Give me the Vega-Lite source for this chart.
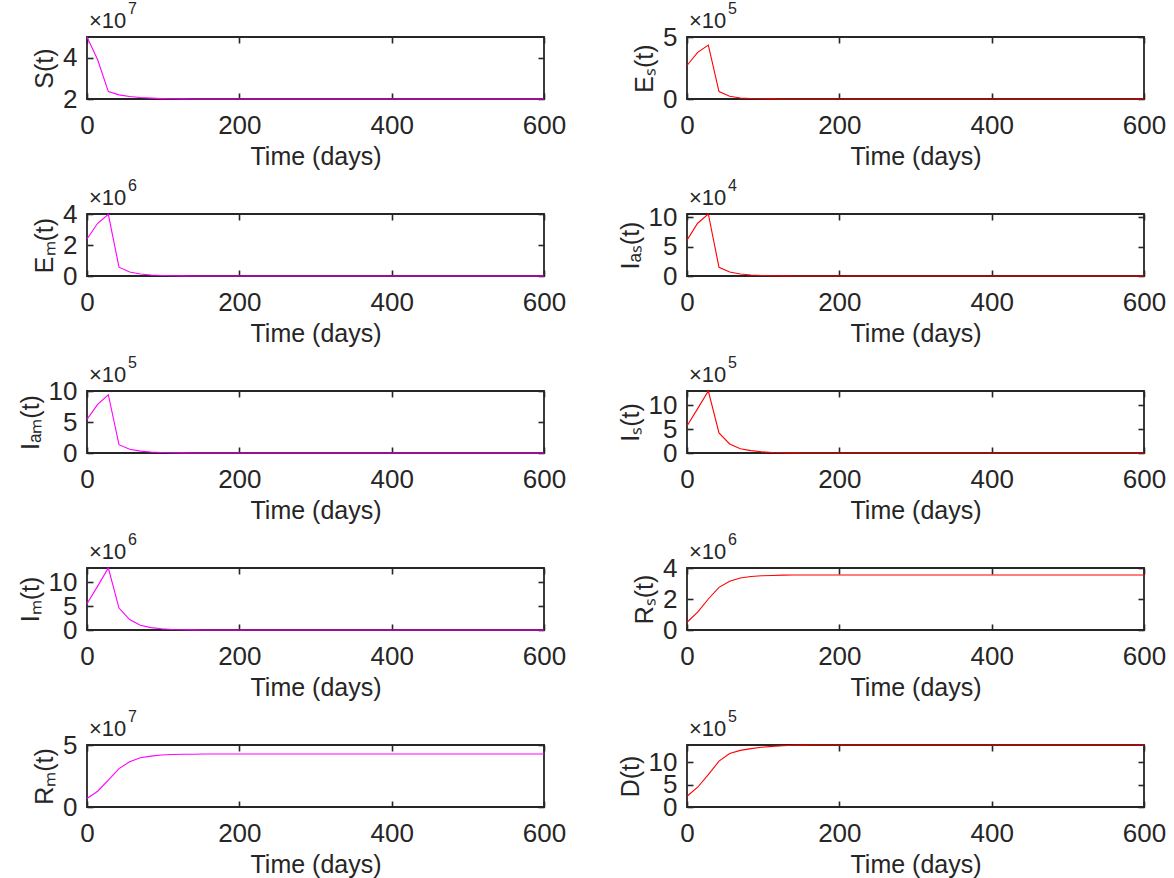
{
  "$schema": "https://vega.github.io/schema/vega-lite/v6.json",
  "autosize": {"type": "pad"},
  "padding": {"left": 17, "top": 0, "right": 0, "bottom": 0},
  "background": "white",
  "datasets": {
    "sim": [
      {"t": 0, "S": 5.0, "Es": 2.7, "Em": 2.39, "Ias": 6.1, "Iam": 5.43, "Is": 5.66, "Im": 5.5, "Rs": 0.5, "Rm": 0.68, "D": 2.4},
      {"t": 14, "S": 3.9, "Es": 3.76, "Em": 3.4, "Ias": 8.98, "Iam": 7.85, "Is": 9.3, "Im": 9.2, "Rs": 1.15, "Rm": 1.27, "D": 4.4},
      {"t": 28, "S": 2.36, "Es": 4.35, "Em": 3.98, "Ias": 10.55, "Iam": 9.4, "Is": 13.0, "Im": 13.0, "Rs": 2.0, "Rm": 2.16, "D": 7.2},
      {"t": 42, "S": 2.2, "Es": 0.6, "Em": 0.57, "Ias": 1.48, "Iam": 1.34, "Is": 4.2, "Im": 4.6, "Rs": 2.75, "Rm": 3.1, "D": 10.2},
      {"t": 56, "S": 2.12, "Es": 0.22, "Em": 0.26, "Ias": 0.68, "Iam": 0.6, "Is": 1.9, "Im": 2.2, "Rs": 3.15, "Rm": 3.65, "D": 11.9},
      {"t": 70, "S": 2.07, "Es": 0.08, "Em": 0.13, "Ias": 0.34, "Iam": 0.3, "Is": 0.9, "Im": 1.0, "Rs": 3.35, "Rm": 3.97, "D": 12.6},
      {"t": 84, "S": 2.04, "Es": 0.04, "Em": 0.06, "Ias": 0.17, "Iam": 0.15, "Is": 0.5, "Im": 0.5, "Rs": 3.45, "Rm": 4.1, "D": 13.0},
      {"t": 98, "S": 2.02, "Es": 0.02, "Em": 0.03, "Ias": 0.08, "Iam": 0.07, "Is": 0.25, "Im": 0.25, "Rs": 3.5, "Rm": 4.19, "D": 13.3},
      {"t": 112, "S": 2.01, "Es": 0.01, "Em": 0.015, "Ias": 0.04, "Iam": 0.035, "Is": 0.12, "Im": 0.12, "Rs": 3.52, "Rm": 4.23, "D": 13.5},
      {"t": 126, "S": 2.005, "Es": 0.005, "Em": 0.007, "Ias": 0.02, "Iam": 0.017, "Is": 0.06, "Im": 0.06, "Rs": 3.54, "Rm": 4.25, "D": 13.65},
      {"t": 140, "S": 2.0, "Es": 0.002, "Em": 0.003, "Ias": 0.01, "Iam": 0.008, "Is": 0.03, "Im": 0.03, "Rs": 3.55, "Rm": 4.26, "D": 13.75},
      {"t": 154, "S": 2.0, "Es": 0.001, "Em": 0.001, "Ias": 0.005, "Iam": 0.004, "Is": 0.015, "Im": 0.015, "Rs": 3.55, "Rm": 4.27, "D": 13.78},
      {"t": 168, "S": 2.0, "Es": 0.0, "Em": 0.0, "Ias": 0.002, "Iam": 0.002, "Is": 0.007, "Im": 0.007, "Rs": 3.55, "Rm": 4.27, "D": 13.8},
      {"t": 196, "S": 2.0, "Es": 0.0, "Em": 0.0, "Ias": 0.0, "Iam": 0.0, "Is": 0.002, "Im": 0.002, "Rs": 3.55, "Rm": 4.27, "D": 13.8},
      {"t": 300, "S": 2.0, "Es": 0.0, "Em": 0.0, "Ias": 0.0, "Iam": 0.0, "Is": 0.0, "Im": 0.0, "Rs": 3.55, "Rm": 4.27, "D": 13.8},
      {"t": 400, "S": 2.0, "Es": 0.0, "Em": 0.0, "Ias": 0.0, "Iam": 0.0, "Is": 0.0, "Im": 0.0, "Rs": 3.55, "Rm": 4.27, "D": 13.8},
      {"t": 500, "S": 2.0, "Es": 0.0, "Em": 0.0, "Ias": 0.0, "Iam": 0.0, "Is": 0.0, "Im": 0.0, "Rs": 3.55, "Rm": 4.27, "D": 13.8},
      {"t": 600, "S": 2.0, "Es": 0.0, "Em": 0.0, "Ias": 0.0, "Iam": 0.0, "Is": 0.0, "Im": 0.0, "Rs": 3.55, "Rm": 4.27, "D": 13.8}
    ],
    "exps": [
      {"var": "S", "base": "×10", "exp": "7"},
      {"var": "Es", "base": "×10", "exp": "5"},
      {"var": "Em", "base": "×10", "exp": "6"},
      {"var": "Ias", "base": "×10", "exp": "4"},
      {"var": "Iam", "base": "×10", "exp": "5"},
      {"var": "Is", "base": "×10", "exp": "5"},
      {"var": "Im", "base": "×10", "exp": "6"},
      {"var": "Rs", "base": "×10", "exp": "6"},
      {"var": "Rm", "base": "×10", "exp": "7"},
      {"var": "D", "base": "×10", "exp": "5"}
    ]
  },
  "data": {"name": "sim"},
  "columns": 2,
  "spacing": {"row": 115, "column": 143},
  "bounds": "flush",
  "concat": [
    {
      "width": 457, "height": 62,
      "layer": [
        {"mark": {"type": "line", "color": "#ff00ff", "strokeWidth": 1.1},
         "encoding": {
           "x": {"field": "t", "type": "quantitative", "scale": {"domain": [0, 600], "nice": false}, "axis": {"title": "Time (days)", "values": [0, 200, 400, 600]}},
           "y": {"field": "S", "type": "quantitative", "scale": {"domain": [2, 5], "nice": false, "zero": false}, "axis": {"title": "S(t)", "values": [2, 4]}}}},
        {"mark": {"type": "line", "opacity": 0},
         "encoding": {
           "x": {"field": "t", "type": "quantitative", "axis": {"orient": "top", "labels": false, "title": null, "values": [0, 200, 400, 600]}},
           "y": {"field": "S", "type": "quantitative", "axis": {"orient": "right", "labels": false, "title": null, "values": [2, 4]}}}},
        {"data": {"name": "exps"}, "transform": [{"filter": "datum.var === 'S'"}],
         "mark": {"type": "text", "align": "left", "baseline": "alphabetic", "fontSize": 22, "dx": 2, "dy": -9, "color": "#262626"},
         "encoding": {"x": {"datum": 0, "axis": null}, "y": {"datum": 5, "axis": null}, "text": {"field": "base"}}},
        {"data": {"name": "exps"}, "transform": [{"filter": "datum.var === 'S'"}],
         "mark": {"type": "text", "align": "left", "baseline": "alphabetic", "fontSize": 16, "dx": 41, "dy": -23, "color": "#262626"},
         "encoding": {"x": {"datum": 0, "axis": null}, "y": {"datum": 5, "axis": null}, "text": {"field": "exp"}}}
      ],
      "resolve": {"axis": {"x": "independent", "y": "independent"}}
    },
    {
      "width": 457, "height": 62,
      "layer": [
        {"mark": {"type": "line", "color": "#ff0000", "strokeWidth": 1.1},
         "encoding": {
           "x": {"field": "t", "type": "quantitative", "scale": {"domain": [0, 600], "nice": false}, "axis": {"title": "Time (days)", "values": [0, 200, 400, 600]}},
           "y": {"field": "Es", "type": "quantitative", "scale": {"domain": [0, 5], "nice": false}, "axis": {"title": "Eₛ(t)", "values": [0, 5]}}}},
        {"mark": {"type": "line", "opacity": 0},
         "encoding": {
           "x": {"field": "t", "type": "quantitative", "axis": {"orient": "top", "labels": false, "title": null, "values": [0, 200, 400, 600]}},
           "y": {"field": "Es", "type": "quantitative", "axis": {"orient": "right", "labels": false, "title": null, "values": [0, 5]}}}},
        {"data": {"name": "exps"}, "transform": [{"filter": "datum.var === 'Es'"}],
         "mark": {"type": "text", "align": "left", "baseline": "alphabetic", "fontSize": 22, "dx": 2, "dy": -9, "color": "#262626"},
         "encoding": {"x": {"datum": 0, "axis": null}, "y": {"datum": 5, "axis": null}, "text": {"field": "base"}}},
        {"data": {"name": "exps"}, "transform": [{"filter": "datum.var === 'Es'"}],
         "mark": {"type": "text", "align": "left", "baseline": "alphabetic", "fontSize": 16, "dx": 41, "dy": -23, "color": "#262626"},
         "encoding": {"x": {"datum": 0, "axis": null}, "y": {"datum": 5, "axis": null}, "text": {"field": "exp"}}}
      ],
      "resolve": {"axis": {"x": "independent", "y": "independent"}}
    },
    {
      "width": 457, "height": 62,
      "layer": [
        {"mark": {"type": "line", "color": "#ff00ff", "strokeWidth": 1.1},
         "encoding": {
           "x": {"field": "t", "type": "quantitative", "scale": {"domain": [0, 600], "nice": false}, "axis": {"title": "Time (days)", "values": [0, 200, 400, 600]}},
           "y": {"field": "Em", "type": "quantitative", "scale": {"domain": [0, 4], "nice": false}, "axis": {"title": "Eₘ(t)", "values": [0, 2, 4]}}}},
        {"mark": {"type": "line", "opacity": 0},
         "encoding": {
           "x": {"field": "t", "type": "quantitative", "axis": {"orient": "top", "labels": false, "title": null, "values": [0, 200, 400, 600]}},
           "y": {"field": "Em", "type": "quantitative", "axis": {"orient": "right", "labels": false, "title": null, "values": [0, 2, 4]}}}},
        {"data": {"name": "exps"}, "transform": [{"filter": "datum.var === 'Em'"}],
         "mark": {"type": "text", "align": "left", "baseline": "alphabetic", "fontSize": 22, "dx": 2, "dy": -9, "color": "#262626"},
         "encoding": {"x": {"datum": 0, "axis": null}, "y": {"datum": 4, "axis": null}, "text": {"field": "base"}}},
        {"data": {"name": "exps"}, "transform": [{"filter": "datum.var === 'Em'"}],
         "mark": {"type": "text", "align": "left", "baseline": "alphabetic", "fontSize": 16, "dx": 41, "dy": -23, "color": "#262626"},
         "encoding": {"x": {"datum": 0, "axis": null}, "y": {"datum": 4, "axis": null}, "text": {"field": "exp"}}}
      ],
      "resolve": {"axis": {"x": "independent", "y": "independent"}}
    },
    {
      "width": 457, "height": 62,
      "layer": [
        {"mark": {"type": "line", "color": "#ff0000", "strokeWidth": 1.1},
         "encoding": {
           "x": {"field": "t", "type": "quantitative", "scale": {"domain": [0, 600], "nice": false}, "axis": {"title": "Time (days)", "values": [0, 200, 400, 600]}},
           "y": {"field": "Ias", "type": "quantitative", "scale": {"domain": [0, 10.55], "nice": false}, "axis": {"title": "Iₐₛ(t)", "values": [0, 5, 10]}}}},
        {"mark": {"type": "line", "opacity": 0},
         "encoding": {
           "x": {"field": "t", "type": "quantitative", "axis": {"orient": "top", "labels": false, "title": null, "values": [0, 200, 400, 600]}},
           "y": {"field": "Ias", "type": "quantitative", "axis": {"orient": "right", "labels": false, "title": null, "values": [0, 5, 10]}}}},
        {"data": {"name": "exps"}, "transform": [{"filter": "datum.var === 'Ias'"}],
         "mark": {"type": "text", "align": "left", "baseline": "alphabetic", "fontSize": 22, "dx": 2, "dy": -9, "color": "#262626"},
         "encoding": {"x": {"datum": 0, "axis": null}, "y": {"datum": 10.55, "axis": null}, "text": {"field": "base"}}},
        {"data": {"name": "exps"}, "transform": [{"filter": "datum.var === 'Ias'"}],
         "mark": {"type": "text", "align": "left", "baseline": "alphabetic", "fontSize": 16, "dx": 41, "dy": -23, "color": "#262626"},
         "encoding": {"x": {"datum": 0, "axis": null}, "y": {"datum": 10.55, "axis": null}, "text": {"field": "exp"}}}
      ],
      "resolve": {"axis": {"x": "independent", "y": "independent"}}
    },
    {
      "width": 457, "height": 62,
      "layer": [
        {"mark": {"type": "line", "color": "#ff00ff", "strokeWidth": 1.1},
         "encoding": {
           "x": {"field": "t", "type": "quantitative", "scale": {"domain": [0, 600], "nice": false}, "axis": {"title": "Time (days)", "values": [0, 200, 400, 600]}},
           "y": {"field": "Iam", "type": "quantitative", "scale": {"domain": [0, 10], "nice": false}, "axis": {"title": "Iₐₘ(t)", "values": [0, 5, 10]}}}},
        {"mark": {"type": "line", "opacity": 0},
         "encoding": {
           "x": {"field": "t", "type": "quantitative", "axis": {"orient": "top", "labels": false, "title": null, "values": [0, 200, 400, 600]}},
           "y": {"field": "Iam", "type": "quantitative", "axis": {"orient": "right", "labels": false, "title": null, "values": [0, 5, 10]}}}},
        {"data": {"name": "exps"}, "transform": [{"filter": "datum.var === 'Iam'"}],
         "mark": {"type": "text", "align": "left", "baseline": "alphabetic", "fontSize": 22, "dx": 2, "dy": -9, "color": "#262626"},
         "encoding": {"x": {"datum": 0, "axis": null}, "y": {"datum": 10, "axis": null}, "text": {"field": "base"}}},
        {"data": {"name": "exps"}, "transform": [{"filter": "datum.var === 'Iam'"}],
         "mark": {"type": "text", "align": "left", "baseline": "alphabetic", "fontSize": 16, "dx": 41, "dy": -23, "color": "#262626"},
         "encoding": {"x": {"datum": 0, "axis": null}, "y": {"datum": 10, "axis": null}, "text": {"field": "exp"}}}
      ],
      "resolve": {"axis": {"x": "independent", "y": "independent"}}
    },
    {
      "width": 457, "height": 62,
      "layer": [
        {"mark": {"type": "line", "color": "#ff0000", "strokeWidth": 1.1},
         "encoding": {
           "x": {"field": "t", "type": "quantitative", "scale": {"domain": [0, 600], "nice": false}, "axis": {"title": "Time (days)", "values": [0, 200, 400, 600]}},
           "y": {"field": "Is", "type": "quantitative", "scale": {"domain": [0, 13], "nice": false}, "axis": {"title": "Iₛ(t)", "values": [0, 5, 10]}}}},
        {"mark": {"type": "line", "opacity": 0},
         "encoding": {
           "x": {"field": "t", "type": "quantitative", "axis": {"orient": "top", "labels": false, "title": null, "values": [0, 200, 400, 600]}},
           "y": {"field": "Is", "type": "quantitative", "axis": {"orient": "right", "labels": false, "title": null, "values": [0, 5, 10]}}}},
        {"data": {"name": "exps"}, "transform": [{"filter": "datum.var === 'Is'"}],
         "mark": {"type": "text", "align": "left", "baseline": "alphabetic", "fontSize": 22, "dx": 2, "dy": -9, "color": "#262626"},
         "encoding": {"x": {"datum": 0, "axis": null}, "y": {"datum": 13, "axis": null}, "text": {"field": "base"}}},
        {"data": {"name": "exps"}, "transform": [{"filter": "datum.var === 'Is'"}],
         "mark": {"type": "text", "align": "left", "baseline": "alphabetic", "fontSize": 16, "dx": 41, "dy": -23, "color": "#262626"},
         "encoding": {"x": {"datum": 0, "axis": null}, "y": {"datum": 13, "axis": null}, "text": {"field": "exp"}}}
      ],
      "resolve": {"axis": {"x": "independent", "y": "independent"}}
    },
    {
      "width": 457, "height": 62,
      "layer": [
        {"mark": {"type": "line", "color": "#ff00ff", "strokeWidth": 1.1},
         "encoding": {
           "x": {"field": "t", "type": "quantitative", "scale": {"domain": [0, 600], "nice": false}, "axis": {"title": "Time (days)", "values": [0, 200, 400, 600]}},
           "y": {"field": "Im", "type": "quantitative", "scale": {"domain": [0, 13], "nice": false}, "axis": {"title": "Iₘ(t)", "values": [0, 5, 10]}}}},
        {"mark": {"type": "line", "opacity": 0},
         "encoding": {
           "x": {"field": "t", "type": "quantitative", "axis": {"orient": "top", "labels": false, "title": null, "values": [0, 200, 400, 600]}},
           "y": {"field": "Im", "type": "quantitative", "axis": {"orient": "right", "labels": false, "title": null, "values": [0, 5, 10]}}}},
        {"data": {"name": "exps"}, "transform": [{"filter": "datum.var === 'Im'"}],
         "mark": {"type": "text", "align": "left", "baseline": "alphabetic", "fontSize": 22, "dx": 2, "dy": -9, "color": "#262626"},
         "encoding": {"x": {"datum": 0, "axis": null}, "y": {"datum": 13, "axis": null}, "text": {"field": "base"}}},
        {"data": {"name": "exps"}, "transform": [{"filter": "datum.var === 'Im'"}],
         "mark": {"type": "text", "align": "left", "baseline": "alphabetic", "fontSize": 16, "dx": 41, "dy": -23, "color": "#262626"},
         "encoding": {"x": {"datum": 0, "axis": null}, "y": {"datum": 13, "axis": null}, "text": {"field": "exp"}}}
      ],
      "resolve": {"axis": {"x": "independent", "y": "independent"}}
    },
    {
      "width": 457, "height": 62,
      "layer": [
        {"mark": {"type": "line", "color": "#ff0000", "strokeWidth": 1.1},
         "encoding": {
           "x": {"field": "t", "type": "quantitative", "scale": {"domain": [0, 600], "nice": false}, "axis": {"title": "Time (days)", "values": [0, 200, 400, 600]}},
           "y": {"field": "Rs", "type": "quantitative", "scale": {"domain": [0, 4], "nice": false}, "axis": {"title": "Rₛ(t)", "values": [0, 2, 4]}}}},
        {"mark": {"type": "line", "opacity": 0},
         "encoding": {
           "x": {"field": "t", "type": "quantitative", "axis": {"orient": "top", "labels": false, "title": null, "values": [0, 200, 400, 600]}},
           "y": {"field": "Rs", "type": "quantitative", "axis": {"orient": "right", "labels": false, "title": null, "values": [0, 2, 4]}}}},
        {"data": {"name": "exps"}, "transform": [{"filter": "datum.var === 'Rs'"}],
         "mark": {"type": "text", "align": "left", "baseline": "alphabetic", "fontSize": 22, "dx": 2, "dy": -9, "color": "#262626"},
         "encoding": {"x": {"datum": 0, "axis": null}, "y": {"datum": 4, "axis": null}, "text": {"field": "base"}}},
        {"data": {"name": "exps"}, "transform": [{"filter": "datum.var === 'Rs'"}],
         "mark": {"type": "text", "align": "left", "baseline": "alphabetic", "fontSize": 16, "dx": 41, "dy": -23, "color": "#262626"},
         "encoding": {"x": {"datum": 0, "axis": null}, "y": {"datum": 4, "axis": null}, "text": {"field": "exp"}}}
      ],
      "resolve": {"axis": {"x": "independent", "y": "independent"}}
    },
    {
      "width": 457, "height": 62,
      "layer": [
        {"mark": {"type": "line", "color": "#ff00ff", "strokeWidth": 1.1},
         "encoding": {
           "x": {"field": "t", "type": "quantitative", "scale": {"domain": [0, 600], "nice": false}, "axis": {"title": "Time (days)", "values": [0, 200, 400, 600]}},
           "y": {"field": "Rm", "type": "quantitative", "scale": {"domain": [0, 5], "nice": false}, "axis": {"title": "Rₘ(t)", "values": [0, 5]}}}},
        {"mark": {"type": "line", "opacity": 0},
         "encoding": {
           "x": {"field": "t", "type": "quantitative", "axis": {"orient": "top", "labels": false, "title": null, "values": [0, 200, 400, 600]}},
           "y": {"field": "Rm", "type": "quantitative", "axis": {"orient": "right", "labels": false, "title": null, "values": [0, 5]}}}},
        {"data": {"name": "exps"}, "transform": [{"filter": "datum.var === 'Rm'"}],
         "mark": {"type": "text", "align": "left", "baseline": "alphabetic", "fontSize": 22, "dx": 2, "dy": -9, "color": "#262626"},
         "encoding": {"x": {"datum": 0, "axis": null}, "y": {"datum": 5, "axis": null}, "text": {"field": "base"}}},
        {"data": {"name": "exps"}, "transform": [{"filter": "datum.var === 'Rm'"}],
         "mark": {"type": "text", "align": "left", "baseline": "alphabetic", "fontSize": 16, "dx": 41, "dy": -23, "color": "#262626"},
         "encoding": {"x": {"datum": 0, "axis": null}, "y": {"datum": 5, "axis": null}, "text": {"field": "exp"}}}
      ],
      "resolve": {"axis": {"x": "independent", "y": "independent"}}
    },
    {
      "width": 457, "height": 62,
      "layer": [
        {"mark": {"type": "line", "color": "#ff0000", "strokeWidth": 1.1},
         "encoding": {
           "x": {"field": "t", "type": "quantitative", "scale": {"domain": [0, 600], "nice": false}, "axis": {"title": "Time (days)", "values": [0, 200, 400, 600]}},
           "y": {"field": "D", "type": "quantitative", "scale": {"domain": [0, 13.8], "nice": false}, "axis": {"title": "D(t)", "values": [0, 5, 10]}}}},
        {"mark": {"type": "line", "opacity": 0},
         "encoding": {
           "x": {"field": "t", "type": "quantitative", "axis": {"orient": "top", "labels": false, "title": null, "values": [0, 200, 400, 600]}},
           "y": {"field": "D", "type": "quantitative", "axis": {"orient": "right", "labels": false, "title": null, "values": [0, 5, 10]}}}},
        {"data": {"name": "exps"}, "transform": [{"filter": "datum.var === 'D'"}],
         "mark": {"type": "text", "align": "left", "baseline": "alphabetic", "fontSize": 22, "dx": 2, "dy": -9, "color": "#262626"},
         "encoding": {"x": {"datum": 0, "axis": null}, "y": {"datum": 13.8, "axis": null}, "text": {"field": "base"}}},
        {"data": {"name": "exps"}, "transform": [{"filter": "datum.var === 'D'"}],
         "mark": {"type": "text", "align": "left", "baseline": "alphabetic", "fontSize": 16, "dx": 41, "dy": -23, "color": "#262626"},
         "encoding": {"x": {"datum": 0, "axis": null}, "y": {"datum": 13.8, "axis": null}, "text": {"field": "exp"}}}
      ],
      "resolve": {"axis": {"x": "independent", "y": "independent"}}
    }
  ],
  "config": {
    "font": "Liberation Sans",
    "view": {"stroke": "#262626", "strokeWidth": 1.8},
    "axis": {
      "domain": false, "grid": false, "ticks": true,
      "tickSize": -6, "tickWidth": 1.6, "tickColor": "#262626",
      "labelFont": "Liberation Sans", "labelFontSize": 26, "labelColor": "#262626",
      "labelPadding": 16, "labelFlush": false, "labelOverlap": false,
      "titleFont": "Liberation Sans", "titleFontSize": 25, "titleFontWeight": "normal", "titleColor": "#262626"
    },
    "axisX": {"titlePadding": 6, "labelPadding": 19},
    "axisY": {"titlePadding": 5}
  }
}
